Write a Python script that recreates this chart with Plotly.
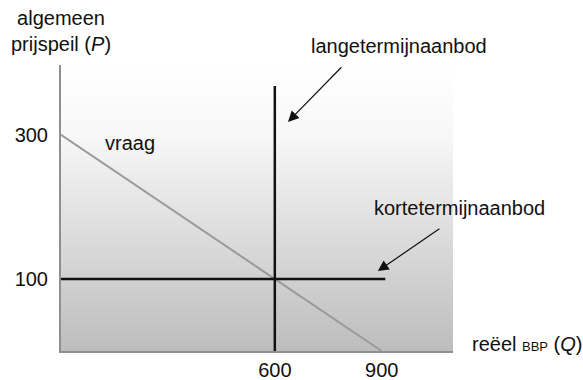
import plotly.graph_objects as go

# ---- data ----
demand_q = [0, 900]
demand_p = [300, 0]
lras_q = [600, 600]
lras_p = [0, 368]
sras_q = [0, 910]
sras_p = [100, 100]
x_ticks = [600, 900]
y_ticks = [100, 300]
X_MAX = 1100
Y_MAX = 397

FONT = "Liberation Sans, Arial, sans-serif"

fig = go.Figure()

# gradient background of the plot area
fig.add_trace(go.Scatter(
    x=[0, X_MAX, X_MAX, 0, 0], y=[0, 0, Y_MAX, Y_MAX, 0],
    mode="lines", line=dict(width=0), fill="toself",
    fillgradient=dict(type="vertical",
                      colorscale=[[0, "#bdbdbd"], [0.75, "#f7f7f7"], [1, "#ffffff"]]),
    hoverinfo="skip", showlegend=False))

fig.add_trace(go.Scatter(x=demand_q, y=demand_p, mode="lines",
                         line=dict(color="#9a9a9a", width=2), showlegend=False))
fig.add_trace(go.Scatter(x=lras_q, y=lras_p, mode="lines",
                         line=dict(color="#111111", width=2.5), showlegend=False))
fig.add_trace(go.Scatter(x=sras_q, y=sras_p, mode="lines",
                         line=dict(color="#111111", width=2.5), showlegend=False))

annotations = [
    dict(x=0, y=1, xref="paper", yref="paper", text="algemeen<br>prijspeil (<i>P</i>)",
         showarrow=False, xanchor="center", yanchor="bottom", yshift=8, align="center"),
    dict(x=194, y=289, xref="x", yref="y", text="vraag", showarrow=False,
         xanchor="center", yanchor="middle"),
    dict(x=948 / X_MAX, y=423 / Y_MAX, xref="paper", yref="paper",
         text="langetermijnaanbod", showarrow=False, xanchor="center", yanchor="middle"),
    dict(x=1117 / X_MAX, y=198 / Y_MAX, xref="paper", yref="paper",
         text="kortetermijnaanbod", showarrow=False, xanchor="center", yanchor="middle"),
    dict(x=1148 / X_MAX, y=10 / Y_MAX, xref="paper", yref="paper",
         text="reëel <span style='font-size:13px'>BBP</span> (<i>Q</i>)",
         showarrow=False, xanchor="left", yanchor="middle"),
    dict(x=637, y=318, ax=791, ay=396, xref="x", yref="y", axref="x", ayref="y",
         text="", showarrow=True,
         arrowhead=2, arrowsize=1.8, arrowwidth=1.2, arrowcolor="#111111", standoff=0),
    dict(x=889, y=111, ax=1066, ay=171, xref="x", yref="y", axref="x", ayref="y",
         text="", showarrow=True,
         arrowhead=2, arrowsize=1.8, arrowwidth=1.2, arrowcolor="#111111", standoff=0),
]

fig.update_layout(
    width=583, height=380,
    margin=dict(l=61, r=130, t=65, b=29, autoexpand=False),
    paper_bgcolor="white", plot_bgcolor="white",
    font=dict(family=FONT, size=20, color="#111111"),
    annotations=annotations,
    showlegend=False,
)
fig.update_xaxes(range=[0, X_MAX], showgrid=False, zeroline=False, automargin=False,
                 showline=True, linecolor="#8f8f8f", linewidth=2,
                 tickvals=x_ticks, ticktext=[str(v) for v in x_ticks],
                 ticks="", ticklabelstandoff=0, fixedrange=True)
fig.update_yaxes(range=[0, Y_MAX], showgrid=False, zeroline=False, automargin=False,
                 showline=True, linecolor="#8f8f8f", linewidth=2,
                 tickvals=y_ticks, ticktext=[str(v) for v in y_ticks],
                 ticks="", ticklabelstandoff=7, fixedrange=True)

fig.write_html("out.html", config={"displayModeBar": False},
               post_script="document.body.style.margin='0';")
